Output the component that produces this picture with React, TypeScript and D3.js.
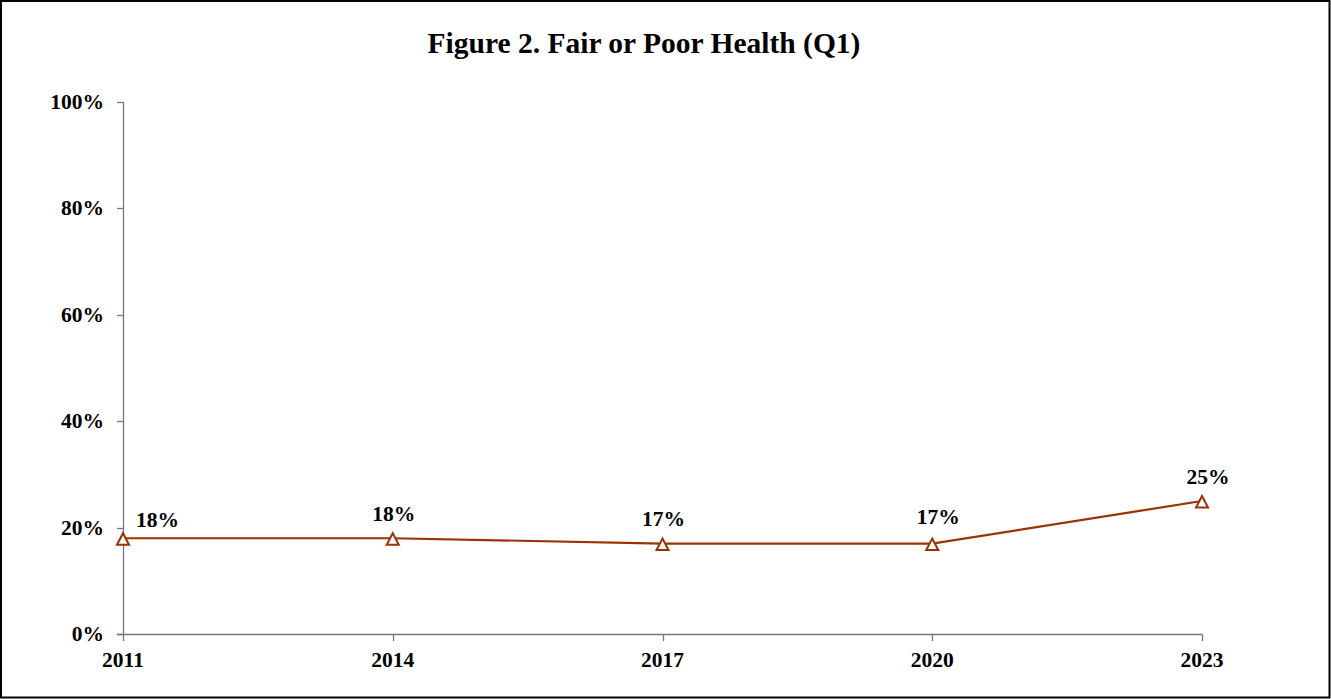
import React from "react";
import * as d3 from "d3";

const years: string[] = ["2011", "2014", "2017", "2020", "2023"];
const values: number[] = [18, 18, 17, 17, 25];
const yTicks: number[] = [0, 20, 40, 60, 80, 100];
const title = "Figure 2. Fair or Poor Health (Q1)";

const W = 1331;
const H = 699;
const FONT = "'Liberation Serif', 'Times New Roman', serif";
const COLOR = "#993300";
const FS = 21.5;
// label placement relative to each point (layout, not data)
const LABEL_DX = [13, 1, 1, 6, 6];
const LABEL_DY = [-11, -17, -17.5, -19.5, -17];

export default function App() {
  const x = d3.scalePoint<string>().domain(years).range([123, 1202]);
  const y = d3.scaleLinear().domain([0, 100]).range([634, 102]);
  const line = d3
    .line<number>()
    .x((_, i) => x(years[i]) as number)
    .y((d) => y(d));
  const tri = (cx: number, cy: number) => {
    const p = d3.path();
    p.moveTo(cx, cy - 6);
    p.lineTo(cx + 6, cy + 5.5);
    p.lineTo(cx - 6, cy + 5.5);
    p.closePath();
    return p.toString();
  };

  return (
    <svg
      width={W}
      height={H}
      style={{ position: "absolute", left: 0, top: 0, background: "#fff" }}
      fontFamily={FONT}
    >
      <rect x={1} y={1} width={W - 2.5} height={H - 2.5} fill="#fff" stroke="#000" strokeWidth={2} />
      <text x={644} y={52.5} textAnchor="middle" fontSize={29.5} fontWeight="bold">
        {title}
      </text>
      {/* y axis */}
      <line x1={123.5} x2={123.5} y1={102} y2={634} stroke="#777" strokeWidth={1.3} />
      {yTicks.map((t) => (
        <g key={t}>
          <line x1={117} x2={123.5} y1={Math.round(y(t)) + 0.5} y2={Math.round(y(t)) + 0.5} stroke="#777" strokeWidth={1.3} />
          <text x={104} y={y(t) + 7} textAnchor="end" fontSize={FS} fontWeight="bold">
            {t}%
          </text>
        </g>
      ))}
      {/* x axis */}
      <line x1={117} x2={1202.5} y1={634.5} y2={634.5} stroke="#777" strokeWidth={1.3} />
      {years.map((yr) => (
        <g key={yr}>
          <line
            x1={Math.round(x(yr) as number) + 0.5}
            x2={Math.round(x(yr) as number) + 0.5}
            y1={634.5}
            y2={641}
            stroke="#777"
            strokeWidth={1.3}
          />
          <text x={x(yr) as number} y={667} textAnchor="middle" fontSize={FS} fontWeight="bold">
            {yr}
          </text>
        </g>
      ))}
      <path d={line(values) || ""} fill="none" stroke={COLOR} strokeWidth={2.2} />
      {values.map((v, i) => (
        <path
          key={i}
          d={tri(x(years[i]) as number, y(v) + 1)}
          fill="#fff"
          stroke={COLOR}
          strokeWidth={2}
        />
      ))}
      {values.map((v, i) => (
        <text
          key={"l" + i}
          x={(x(years[i]) as number) + LABEL_DX[i]}
          y={y(v) + LABEL_DY[i]}
          textAnchor={i === 0 ? "start" : "middle"}
          fontSize={FS}
          fontWeight="bold"
        >
          {v}%
        </text>
      ))}
    </svg>
  );
}
